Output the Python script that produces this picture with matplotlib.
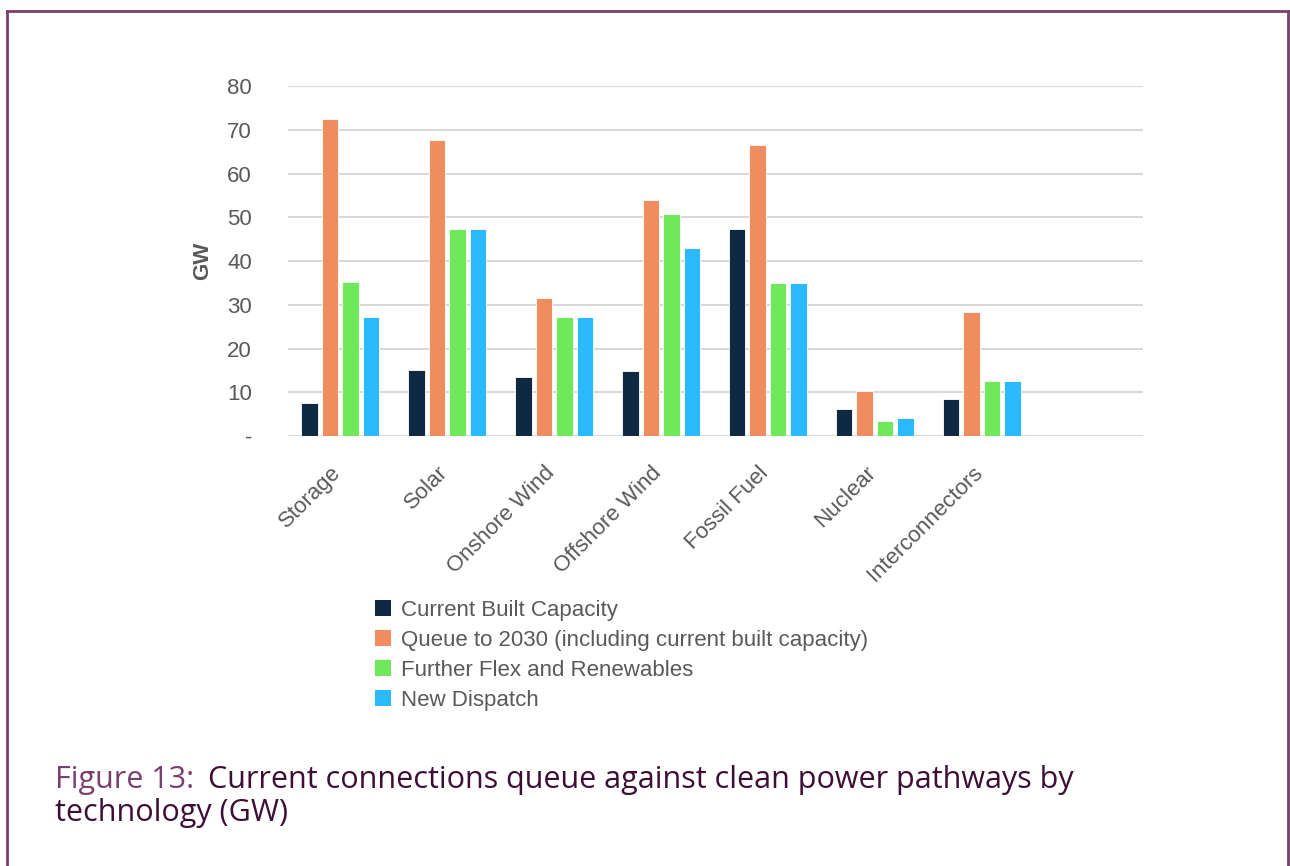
import numpy as np
import matplotlib.pyplot as plt
import matplotlib.transforms as mtransforms
from matplotlib.patches import Patch
from matplotlib.lines import Line2D

# technologies (last slot left empty on the axis)
categories = ['Storage', 'Solar', 'Onshore Wind', 'Offshore Wind',
              'Fossil Fuel', 'Nuclear', 'Interconnectors', '']
series_names = ['Current Built Capacity',
                'Queue to 2030 (including current built capacity)',
                'Further Flex and Renewables',
                'New Dispatch']
current_built = [7.5, 15.1, 13.6, 14.8, 47.3, 6.1, 8.4]
queue_2030 = [72.5, 67.7, 31.5, 53.9, 66.5, 10.4, 28.3]
further_flex = [35.2, 47.3, 27.3, 50.7, 35.0, 3.5, 12.5]
new_dispatch = [27.2, 47.3, 27.3, 43.0, 35.0, 4.1, 12.5]
colors = ['#0f2942', '#ef8d5e', '#6fe85b', '#2cbaff']

plt.rcParams['font.family'] = ['Liberation Sans', 'DejaVu Sans']

fig = plt.figure(figsize=(12.9, 8.66), dpi=100)
ax = fig.add_axes([0.2233, 0.4965, 0.6628, 0.4042])

x = np.arange(len(current_built))
slot = 0.192
width = 0.155
all_series = [current_built, queue_2030, further_flex, new_dispatch]
for i, (vals, col) in enumerate(zip(all_series, colors)):
    ax.bar(x + (i - 1.5) * slot - 0.01, vals, width=width, color=col,
           edgecolor='white', linewidth=0.6, zorder=3)

ax.set_xlim(-0.5, len(categories) - 0.5)
ax.set_ylim(0, 80)
ax.set_yticks(np.arange(0, 81, 10))
ax.set_yticklabels(['-'] + [str(v) for v in range(10, 81, 10)])
ax.set_xticks(np.arange(len(categories)))
ax.set_xticklabels(categories, rotation=45, ha='right', rotation_mode='anchor')
ax.tick_params(axis='y', length=0, pad=26, labelsize=16, labelcolor='#595959')
ax.tick_params(axis='x', length=0, pad=6, labelsize=16, labelcolor='#595959')
# nudge the slanted category labels down and to the left
shift = mtransforms.ScaledTranslation(-11 / 100, -18 / 100, fig.dpi_scale_trans)
for lbl in ax.get_xticklabels():
    lbl.set_transform(lbl.get_transform() + shift)
ax.grid(axis='y', color='#d9d9d9', linewidth=1.5, zorder=0)
for s in ax.spines.values():
    s.set_visible(False)
ax.set_ylabel('GW', fontsize=16, fontweight='bold', color='#595959', labelpad=10)

handles = [Patch(facecolor=c, edgecolor='none') for c in colors]
fig.legend(handles, series_names, loc='upper left',
           bbox_to_anchor=(0.284, 1 - 591 / 866), frameon=False, fontsize=16,
           labelcolor='#595959', handlelength=0.72, handleheight=0.72,
           handletextpad=0.45, labelspacing=0.4, borderaxespad=0)

# caption: lighter figure number, then the title text right after it
cap_font = 'Open Sans'
cap_size = 22
fig_num = fig.text(55 / 1290, 1 - 780 / 866, 'Figure 13:', fontsize=cap_size,
                   color='#7b3f6e', family=cap_font, va='center')
renderer = fig.canvas.get_renderer()
num_end = fig_num.get_window_extent(renderer).x1
fig.text((num_end + 14) / 1290, 1 - 780 / 866,
         'Current connections queue against clean power pathways by',
         fontsize=cap_size, color='#3d0f35', family=cap_font, va='center')
fig.text(55 / 1290, 1 - 813 / 866, 'technology (GW)', fontsize=cap_size,
         color='#3d0f35', family=cap_font, va='center')

# frame around the figure panel
frame_col = '#7b3f6e'
fig.add_artist(Line2D([7 / 1290, 1288 / 1290], [1 - 11 / 866] * 2,
                      color=frame_col, lw=2, transform=fig.transFigure))
fig.add_artist(Line2D([7 / 1290] * 2, [0, 1 - 11 / 866],
                      color=frame_col, lw=2, transform=fig.transFigure))
fig.add_artist(Line2D([1288 / 1290] * 2, [0, 1 - 11 / 866],
                      color=frame_col, lw=2, transform=fig.transFigure))

fig.savefig('out.png', dpi=100)
